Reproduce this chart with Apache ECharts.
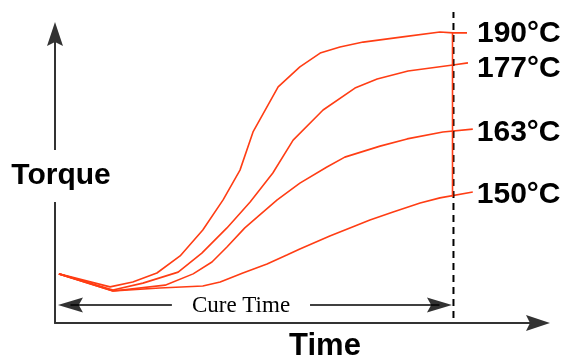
<!DOCTYPE html>
<html>
<head>
<meta charset="utf-8">
<script src="https://cdn.jsdelivr.net/npm/echarts@6/dist/echarts.min.js"></script>
<style>
  html, body { margin: 0; padding: 0; background: #fff; }
  #chart { width: 564px; height: 360px; }
</style>
</head>
<body>
<div id="chart"></div>
<script>
// rheometer curves, time vs torque (arbitrary units)
var temps = ['190°C', '177°C', '163°C', '150°C'];

var curve190 = [[0.8, 17.0], [11.4, 12.5], [16.1, 14.2], [21.1, 17.3], [25.9, 23.2], [30.6, 32.2],
  [34.8, 42.6], [38.3, 52.9], [41.0, 66.1], [46.2, 81.7], [50.7, 88.6], [54.9, 93.4],
  [59.0, 95.5], [63.8, 97.2], [72.0, 99.0], [79.7, 100.7], [82.4, 100.4], [85.3, 100.4]];

var curve177 = [[0.8, 17.0], [12.0, 11.4], [18.2, 13.8], [25.5, 17.6], [30.4, 24.2], [35.6, 32.9],
  [40.4, 41.9], [45.1, 51.9], [49.3, 63.3], [55.5, 73.7], [62.1, 81.3], [66.7, 84.4],
  [73.1, 87.2], [82.4, 89.3], [85.5, 90.0]];

var curve163 = [[0.8, 17.0], [12.0, 11.1], [22.8, 13.1], [28.6, 17.0], [32.5, 21.1], [35.6, 26.3],
  [39.3, 32.9], [42.4, 37.4], [46.0, 42.6], [50.7, 48.4], [56.3, 54.0], [60.0, 57.4],
  [67.3, 61.2], [72.9, 63.7], [80.3, 66.1], [86.5, 67.1]];

var curve150 = [[0.8, 17.0], [12.0, 11.1], [21.7, 12.1], [30.6, 12.8], [34.2, 14.2], [38.9, 17.3],
  [43.9, 20.4], [48.0, 23.5], [50.7, 25.6], [56.9, 30.1], [62.1, 33.6], [65.2, 35.6],
  [70.0, 38.4], [75.6, 41.5], [79.7, 43.3], [86.5, 45.3]];

var cureTime = 82.5;
var cureMark = [100.4, 43.6];      // red bar between 190 and 150 curves
var dashSpan = [1.7, 107.6];       // vertical dashed line
var cureArrowY = 6.2;
var cureArrowLeft = [24.2, 3.2];
var cureArrowRight = [52.8, 79.6];

var red = '#ff3d14';
var arrowPath = 'path://M8,0L16,24L8,20L0,24Z';
var labelShift = [[10, 1], [9, 6], [4, 4], [4, 3]];

var chart = echarts.init(document.getElementById('chart'));

var curveSeries = [curve190, curve177, curve163, curve150].map(function (d, i) {
  return {
    name: temps[i],
    type: 'line',
    data: d,
    symbol: 'none',
    clip: false,
    lineStyle: { color: red, width: 1.6 },
    endLabel: {
      show: true,
      formatter: '{a}',
      color: '#000',
      fontFamily: 'Liberation Sans',
      fontWeight: 'bold',
      fontSize: 30,
      distance: labelShift[i][0],
      offset: [0, labelShift[i][1]]
    }
  };
});

var option = {
  animation: false,
  grid: { left: 55, right: 26, top: 34, bottom: 37 },
  xAxis: {
    type: 'value', min: 0, max: 100,
    axisLine: {
      show: true,
      symbol: ['none', arrowPath],
      symbolSize: [16, 24],
      lineStyle: { color: '#333', width: 2 }
    },
    axisTick: { show: false },
    axisLabel: { show: false },
    splitLine: { show: false }
  },
  yAxis: {
    type: 'value', min: 0, max: 100,
    axisLine: {
      show: true,
      symbol: ['none', arrowPath],
      symbolSize: [16, 24],
      lineStyle: { color: '#333', width: 2 }
    },
    axisTick: { show: false },
    axisLabel: { show: false },
    splitLine: { show: false }
  },
  series: curveSeries.concat([
    {
      name: 'cure',
      type: 'line',
      data: [[cureTime, dashSpan[0]], [cureTime, dashSpan[1]]],
      symbol: 'none',
      clip: false,
      silent: true,
      lineStyle: { color: '#000', width: 2, type: [7, 5] },
      markLine: {
        silent: true,
        symbol: 'none',
        label: { show: false },
        lineStyle: { color: '#000', width: 1.5, type: 'solid' },
        data: [
          [{ coord: [cureArrowLeft[0], cureArrowY] }, { coord: [cureArrowLeft[1], cureArrowY] }],
          [{ coord: [cureArrowRight[0], cureArrowY] }, { coord: [cureArrowRight[1], cureArrowY] }]
        ]
      }
    },
    {
      name: 'cureHeads',
      type: 'scatter',
      silent: true,
      symbol: arrowPath,
      symbolSize: [15, 25],
      itemStyle: { color: '#000' },
      data: [
        { value: [cureArrowLeft[1], cureArrowY], symbolRotate: 90 },
        { value: [cureArrowRight[1], cureArrowY], symbolRotate: -90 }
      ]
    },
    {
      name: 'cureMark',
      type: 'line',
      data: [[cureTime - 0.2, cureMark[0]], [cureTime - 0.2, cureMark[1]]],
      symbol: 'none',
      clip: false,
      silent: true,
      lineStyle: { color: red, width: 1.6 }
    }
  ]),
  graphic: [
    {
      type: 'text', x: 61, y: 176, z: 100,
      style: {
        text: 'Torque', font: 'bold 30px "Liberation Sans"', fill: '#000',
        align: 'center', verticalAlign: 'middle', textAlign: 'center', textVerticalAlign: 'middle',
        backgroundColor: '#fff', padding: [11, 2]
      }
    },
    {
      type: 'text', x: 325, y: 346, z: 100,
      style: {
        text: 'Time', font: 'bold 31px "Liberation Sans"', fill: '#000',
        align: 'center', verticalAlign: 'middle', textAlign: 'center', textVerticalAlign: 'middle'
      }
    },
    {
      type: 'text', x: 241, y: 306, z: 100,
      style: {
        text: 'Cure Time', font: '23px "Liberation Serif"', fill: '#000',
        align: 'center', verticalAlign: 'middle', textAlign: 'center', textVerticalAlign: 'middle'
      }
    }
  ]
};

chart.setOption(option);
window.addEventListener('resize', function () {
  chart.resize();
});
</script>
</body>
</html>
